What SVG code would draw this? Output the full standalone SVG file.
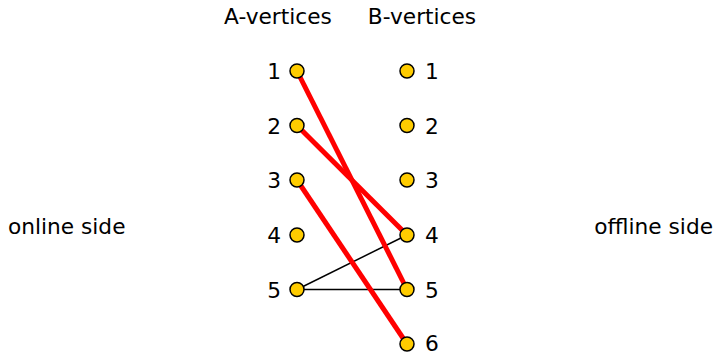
<svg xmlns="http://www.w3.org/2000/svg" width="716" height="352" viewBox="0 0 716 352">
<style>
text{font-family:"DejaVu Sans",sans-serif;font-size:21.7px;fill:#000}
.v{fill:#ffcc00;stroke:#000;stroke-width:1.5}
.m{stroke:#ff0000;stroke-width:5;fill:none}
.e{stroke:#000;stroke-width:1.5;fill:none}
.l{text-anchor:end}
</style>
<rect width="716" height="352" fill="#fff"/>
<text x="278" y="24" text-anchor="middle">A-vertices</text>
<text x="422" y="24" text-anchor="middle">B-vertices</text>
<text x="8" y="234">online side</text>
<text x="713" y="234" text-anchor="end">offline side</text>
<g id="connectors">
<line class="e" x1="297" y1="289.5" x2="407" y2="235"/>
<line class="e" x1="297" y1="289.5" x2="407" y2="289.5"/>
<line class="m" x1="297" y1="71" x2="407" y2="289.5"/>
<line class="m" x1="297" y1="125.5" x2="407" y2="235"/>
<line class="m" x1="297" y1="180" x2="407" y2="344"/>
</g>
<g id="a1"><circle class="v" cx="297" cy="71" r="7"/><text class="l" x="281" y="79">1</text></g>
<g id="a2"><circle class="v" cx="297" cy="125.5" r="7"/><text class="l" x="281" y="133.5">2</text></g>
<g id="a3"><circle class="v" cx="297" cy="180" r="7"/><text class="l" x="281" y="188">3</text></g>
<g id="a4"><circle class="v" cx="297" cy="235" r="7"/><text class="l" x="281" y="243">4</text></g>
<g id="a5"><circle class="v" cx="297" cy="289.5" r="7"/><text class="l" x="281" y="297.5">5</text></g>
<g id="b1"><circle class="v" cx="407" cy="71" r="7"/><text x="425" y="79">1</text></g>
<g id="b2"><circle class="v" cx="407" cy="125.5" r="7"/><text x="425" y="133.5">2</text></g>
<g id="b3"><circle class="v" cx="407" cy="180" r="7"/><text x="425" y="188">3</text></g>
<g id="b4"><circle class="v" cx="407" cy="235" r="7"/><text x="425" y="243">4</text></g>
<g id="b5"><circle class="v" cx="407" cy="289.5" r="7"/><text x="425" y="297.5">5</text></g>
<g id="b6"><circle class="v" cx="407" cy="344" r="7"/><text x="425" y="351">6</text></g>
</svg>
